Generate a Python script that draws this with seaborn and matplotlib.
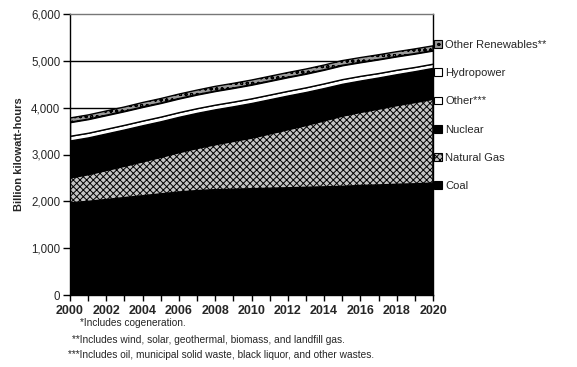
import matplotlib
matplotlib.use("Agg")
import matplotlib.pyplot as plt
from matplotlib.patches import Patch
from matplotlib.ticker import FuncFormatter, MultipleLocator
import seaborn as sns

# Electricity generation by fuel, billion kilowatt-hours
years = list(range(2000, 2021))
coal = [1970, 2000, 2040, 2080, 2120, 2160, 2200, 2230, 2250, 2260, 2270,
        2280, 2290, 2300, 2310, 2320, 2340, 2350, 2365, 2375, 2390]
natural_gas = [540, 580, 630, 680, 735, 790, 850, 910, 970, 1030, 1090,
               1170, 1250, 1330, 1420, 1510, 1570, 1630, 1690, 1745, 1800]
nuclear = [790, 785, 780, 775, 770, 760, 755, 750, 745, 740, 740,
           730, 720, 705, 690, 680, 670, 665, 660, 660, 660]
other = [100, 100, 100, 100, 100, 100, 100, 100, 100, 100, 100,
         100, 100, 100, 100, 100, 100, 95, 95, 90, 90]
hydropower = [290, 290, 290, 290, 290, 290, 290, 290, 290, 290, 290,
              290, 290, 290, 290, 295, 290, 290, 285, 285, 280]
other_renewables = [90, 90, 90, 90, 95, 95, 95, 95, 100, 100, 100,
                    100, 100, 100, 100, 100, 100, 100, 100, 100, 100]

series_names = ["Coal", "Natural Gas", "Nuclear", "Other***", "Hydropower",
                "Other Renewables**"]
footnotes = ["*Includes cogeneration.",
             "**Includes wind, solar, geothermal, biomass, and landfill gas.",
             "***Includes oil, municipal solid waste, black liquor, and other wastes."]

sns.set_style("white")
plt.rcParams["font.family"] = ["Liberation Sans", "DejaVu Sans"]
plt.rcParams["hatch.linewidth"] = 0.7

fig = plt.figure(figsize=(5.77, 3.67), dpi=100)
ax = fig.add_axes([70 / 577, 1 - 295 / 367, 363 / 577, 281 / 367])

faces = ["black", "#c4c4c4", "black", "white", "white", "#9a9a9a"]
hatches = [None, "xxxxx", None, None, None, "ooo"]

for yv in range(1000, 6000, 1000):
    ax.axhline(yv, color="black", lw=1.0, zorder=0)

polys = ax.stackplot(years, coal, natural_gas, nuclear, other, hydropower,
                     other_renewables, colors=faces, edgecolor="black",
                     linewidth=1.0, zorder=2)
for p, h in zip(polys, hatches):
    if h:
        p.set_hatch(h)

ax.set_xlim(2000, 2020)
ax.set_ylim(0, 6000)
ax.xaxis.set_major_locator(MultipleLocator(2))
ax.xaxis.set_minor_locator(MultipleLocator(1))
ax.yaxis.set_major_locator(MultipleLocator(1000))
ax.yaxis.set_major_formatter(FuncFormatter(lambda v, _: f"{int(v):,}"))
ax.tick_params(axis="y", which="major", direction="out", length=5, width=1,
               color="black", labelsize=8.3, pad=2, left=True)
ax.tick_params(axis="x", which="both", direction="out", length=4, width=1,
               color="black", bottom=True)
ax.tick_params(axis="x", which="major", labelsize=9, pad=3)
for lab in ax.get_xticklabels():
    lab.set_fontweight("bold")

for side in ("left", "bottom", "right"):
    ax.spines[side].set_color("black")
    ax.spines[side].set_linewidth(1.0)
ax.spines["top"].set_color("#777777")
ax.spines["top"].set_linestyle((0, (2, 1)))
ax.spines["top"].set_linewidth(1.0)

ax.set_ylabel("Billion kilowatt-hours", fontsize=8, fontweight="bold",
              labelpad=5)

handles = [Patch(facecolor=f, edgecolor="black", hatch=h, linewidth=0.8)
           for f, h in zip(faces, hatches)]
ax.legend(handles[::-1], series_names[::-1], loc="upper left",
          bbox_to_anchor=(434 / 577, 1 - 40 / 367),
          bbox_transform=fig.transFigure, frameon=False, fontsize=8,
          handlelength=0.7, handleheight=0.7, handletextpad=0.3,
          labelspacing=1.64, borderaxespad=0, borderpad=0)

fig.text(80 / 577, 1 - 323 / 367, footnotes[0], fontsize=7.3, va="center")
fig.text(72 / 577, 1 - 340 / 367, footnotes[1], fontsize=7.3, va="center")
fig.text(68 / 577, 1 - 355 / 367, footnotes[2], fontsize=7.3, va="center")

fig.savefig("out.png", dpi=100)
